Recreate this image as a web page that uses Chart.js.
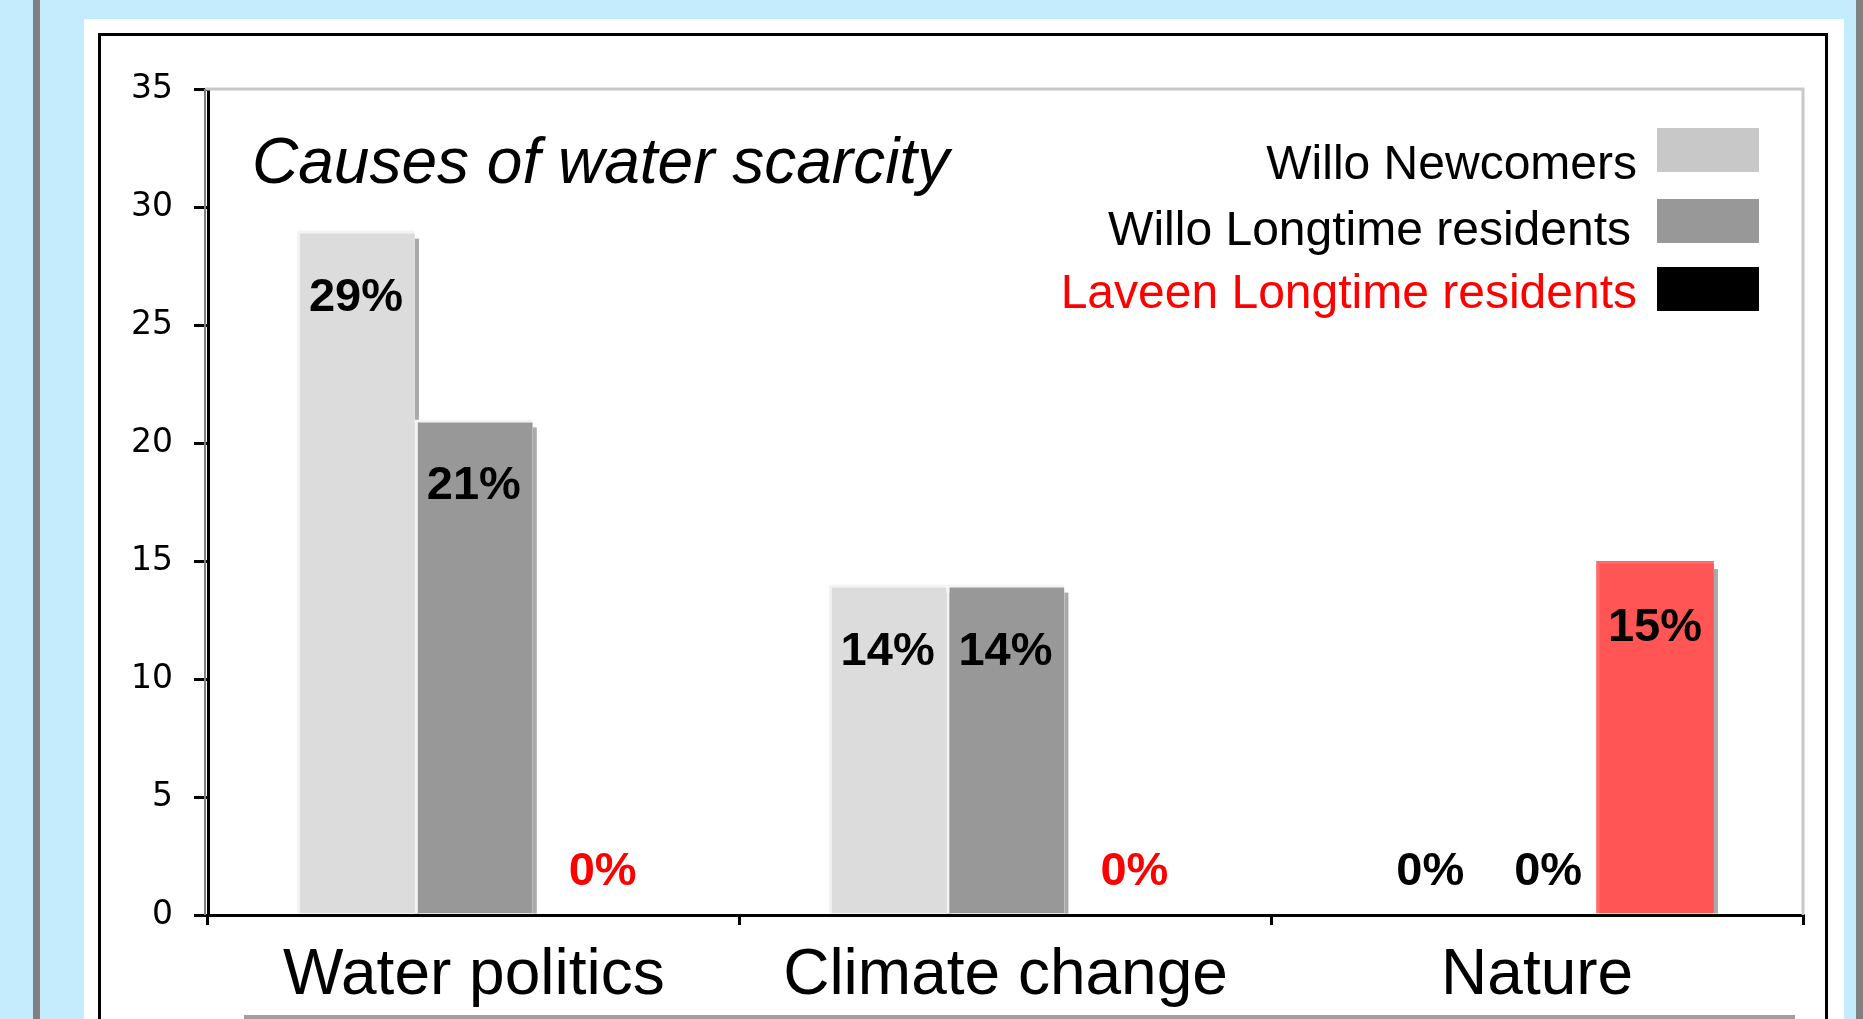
<!DOCTYPE html>
<html>
<head>
<meta charset="utf-8">
<script src="https://cdn.jsdelivr.net/npm/chart.js@4.4.0/dist/chart.umd.min.js"></script>
<style>
  html, body { margin:0; padding:0; width:1863px; height:1019px; overflow:hidden; background:#c5ecfc; position:relative; }
  .bar { position:absolute; top:0; bottom:0; width:7px; background:#808080; }
  #panel { position:absolute; left:84px; top:19px; width:1760px; height:1100px; background:#fff; }
  #frame { position:absolute; left:98px; top:33px; width:1724px; height:1100px; border:3px solid #000; }
  #baseline { position:absolute; left:244px; top:1015px; width:1551px; height:4px; background:#a0a0a0; }
  #c { position:absolute; left:0; top:0; }
</style>
</head>
<body>
<div class="bar" style="left:33px"></div>
<div class="bar" style="left:1856px"></div>
<div id="panel"></div>
<div id="frame"></div>
<div id="baseline"></div>
<canvas id="c" width="1863" height="1019"></canvas>
<script>
/***********************
 * DATA
 ***********************/
var TITLE = "Causes of water scarcity";
var CATEGORIES = ["Water politics", "Climate change", "Nature"];
var SERIES_NAMES = ["Willo Newcomers", "Willo Longtime residents", "Laveen Longtime residents"];
var NEWCOMERS = [29, 14, 0];
var LONGTIME  = [21, 14, 0];
var LAVEEN    = [0, 0, 15];
var Y_TICKS   = [0, 5, 10, 15, 20, 25, 30, 35];

var BAR_COLORS    = ["#dcdcdc", "#989898", "#ff5555"];
var BAR_EDGES     = ["#f3f3f3", "#f3f3f3", "#ff6b6b"];
var LEGEND_COLORS = ["#c8c8c8", "#989898", "#000000"];
var LEGEND_TEXT   = ["#000000", "#000000", "#ff0000"];

var FONT = '"Liberation Sans", Arial, sans-serif';

/***********************
 * PLUGINS
 ***********************/
// grauer Rahmen oben/rechts + Schatten rechts neben den Balken
var frameAndShadow = {
  id: "frameAndShadow",
  beforeDatasetsDraw: function(chart){
    var ctx = chart.ctx, a = chart.chartArea;
    ctx.save();
    ctx.strokeStyle = "#c8c8c8";
    ctx.lineWidth = 3;
    ctx.beginPath();
    ctx.moveTo(a.left - 3, a.top);
    ctx.lineTo(a.right, a.top);
    ctx.lineTo(a.right, a.bottom);
    ctx.stroke();

    // dünner grauer Schatten links an der y-Achse
    ctx.fillStyle = "#808080";
    ctx.fillRect(a.left - 4, a.top, 2, a.bottom - a.top);

    ctx.fillStyle = "#a9a9a9";
    chart.data.datasets.forEach(function(ds, i){
      var meta = chart.getDatasetMeta(i);
      meta.data.forEach(function(el, j){
        if (!ds.data[j]) return;
        var r = el.x + el.width/2;
        ctx.fillRect(r, el.y + 8, 4, el.base - el.y - 8);
      });
    });
    ctx.restore();
  }
};

// Prozent-Labels, Titel, Legende (Kasten rechts vom Text)
var overlay = {
  id: "overlay",
  afterDraw: function(chart){
    var ctx = chart.ctx, a = chart.chartArea;
    ctx.save();

    // value labels
    ctx.font = "bold 47px " + FONT;
    ctx.textAlign = "center";
    ctx.textBaseline = "middle";
    chart.data.datasets.forEach(function(ds, i){
      var meta = chart.getDatasetMeta(i);
      meta.data.forEach(function(el, j){
        var v = ds.data[j];
        var y = v > 0 ? el.y + 67 : el.base - 43;
        var dx = v > 0 ? 0 : 11;
        ctx.fillStyle = (i === 2 && v === 0) ? "#ff0000" : "#000000";
        ctx.fillText(v + "%", el.x + dx, y);
      });
    });

    // title
    ctx.font = "italic 64px " + FONT;
    ctx.textAlign = "left";
    ctx.textBaseline = "alphabetic";
    ctx.fillStyle = "#000";
    ctx.fillText(TITLE, a.left + 44, 183);

    // legend
    ctx.font = "48px " + FONT;
    ctx.textAlign = "right";
    var rows = [128, 199, 267];
    var shift = [51, 46, 41];
    for (var k = 0; k < SERIES_NAMES.length; k++){
      ctx.fillStyle = LEGEND_COLORS[k];
      ctx.fillRect(1657, rows[k], 102, 44);
      ctx.fillStyle = LEGEND_TEXT[k];
      ctx.fillText(SERIES_NAMES[k], 1637 - (k === 1 ? 6 : 0), rows[k] + shift[k]);
    }
    ctx.restore();
  }
};

/***********************
 * CHART
 ***********************/
var datasets = [NEWCOMERS, LONGTIME, LAVEEN].map(function(vals, i){
  return {
    label: SERIES_NAMES[i],
    data: vals,
    backgroundColor: BAR_COLORS[i],
    borderColor: BAR_EDGES[i],
    borderWidth: { top: 3, left: 3, right: 0, bottom: 0 },
    borderSkipped: false,
    categoryPercentage: 0.665,
    barPercentage: 1.0
  };
});

new Chart(document.getElementById("c").getContext("2d"), {
  type: "bar",
  data: { labels: CATEGORIES, datasets: datasets },
  options: {
    responsive: false,
    animation: false,
    layout: { padding: { top: 89, right: 60, left: 0, bottom: 0 } },
    plugins: { legend: { display: false }, tooltip: { enabled: false }, title: { display: false } },
    scales: {
      x: {
        offset: true,
        grid: { offset: true, drawOnChartArea: false, color: "#000", lineWidth: 3, tickLength: 10 },
        border: { display: true, color: "#000", width: 3 },
        ticks: { color: "#000", padding: 13, font: { family: FONT, size: 64 }, maxRotation: 0 },
        afterFit: function(s){ s.height = 104; }
      },
      y: {
        min: 0, max: 35,
        afterBuildTicks: function(s){ s.ticks = Y_TICKS.map(function(v){ return { value: v }; }); },
        grid: { drawOnChartArea: false, color: "#000", lineWidth: 3, tickLength: 14 },
        border: { display: true, color: "#000", width: 3 },
        ticks: { color: "#000", padding: 21, font: { family: '"DejaVu Sans", sans-serif', size: 33 } },
        afterFit: function(s){ s.width = 208; }
      }
    }
  },
  plugins: [frameAndShadow, overlay]
});
</script>
</body>
</html>
